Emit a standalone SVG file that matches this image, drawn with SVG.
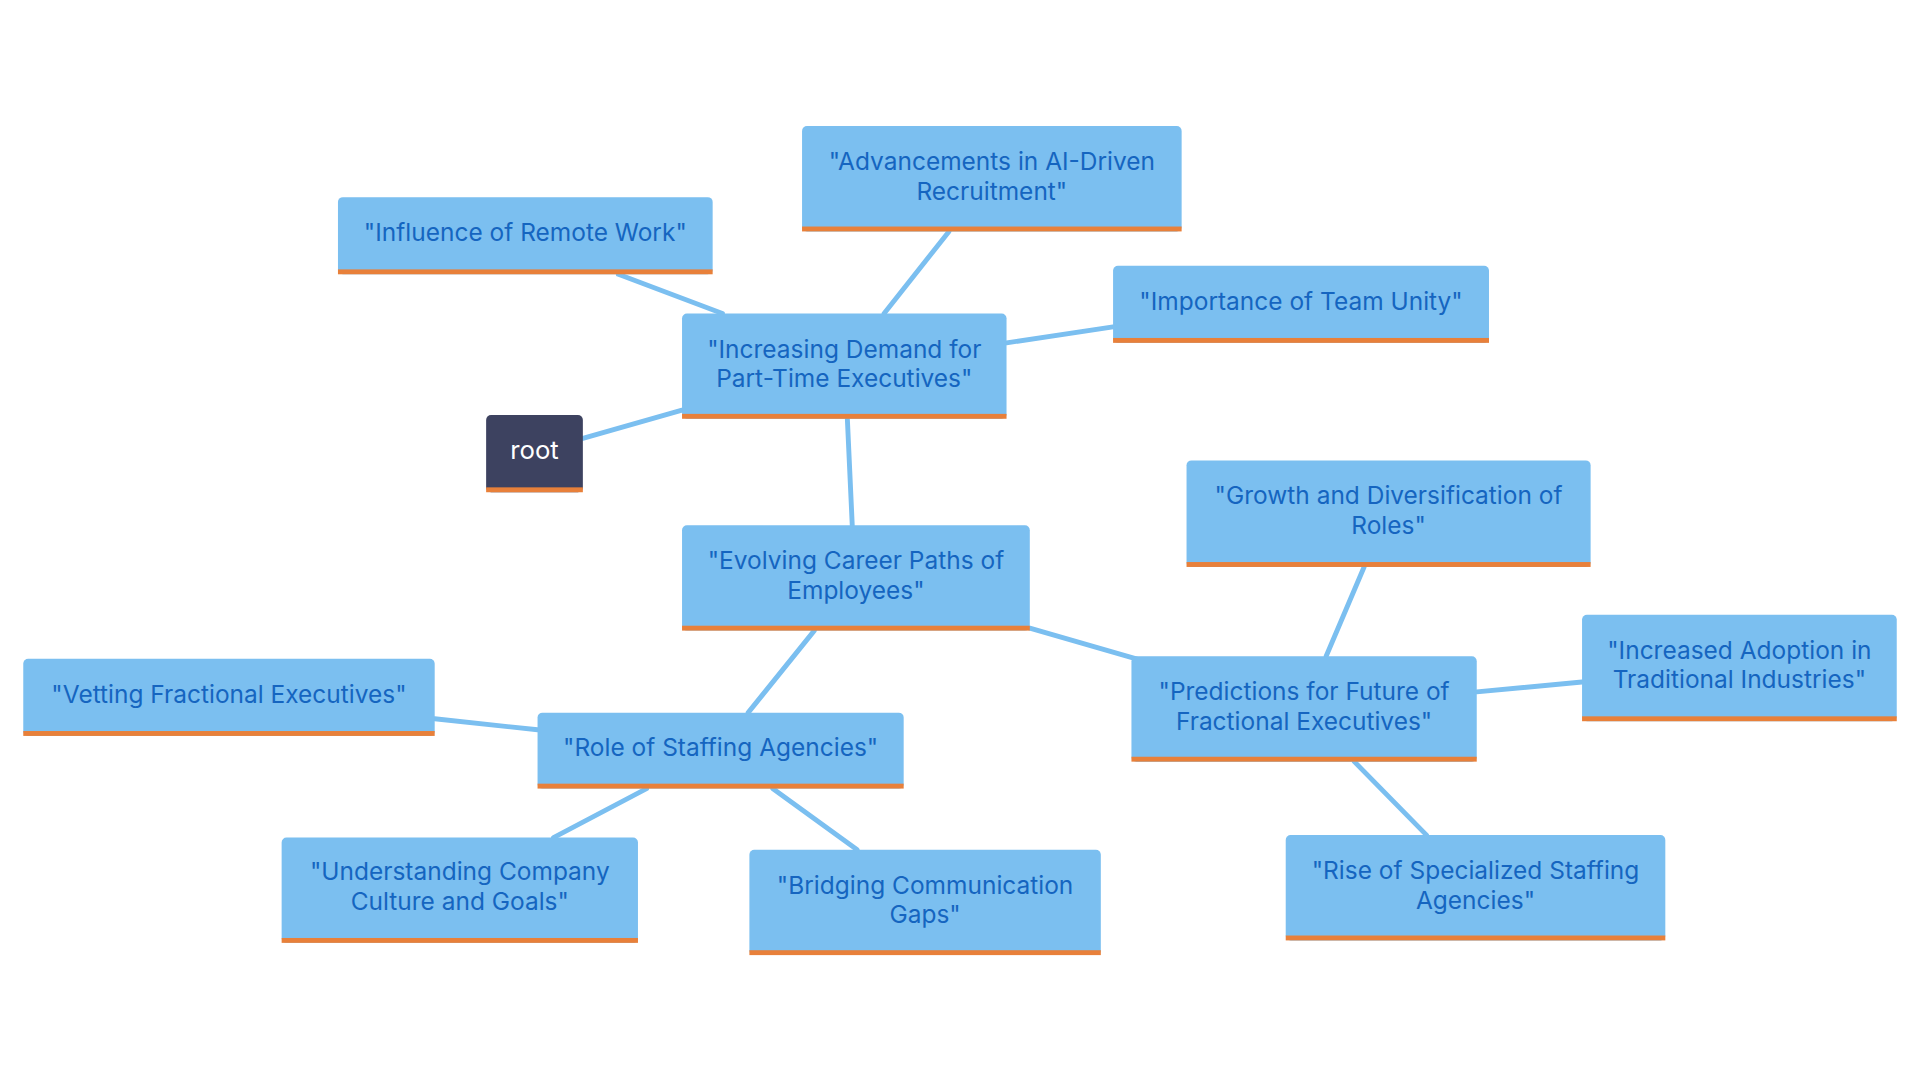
<svg xmlns="http://www.w3.org/2000/svg" width="1920" height="1080" viewBox="0 0 1920 1080">
<style>
.n{fill:#7bbff0}
.b{fill:#e8803a}
.t{font-family:Inter,"Open Sans",sans-serif;font-size:20px;fill:#1565c0;text-anchor:middle}
.c line{stroke:#7bbff0;stroke-width:4;stroke-linecap:round}
</style>
<rect width="1920" height="1080" fill="#fff"/>
<g transform="scale(1.2245)">
<g class="c" id="connectors">
<line x1="476" y1="358" x2="557" y2="335"/>
<line x1="590" y1="256" x2="505" y2="224"/>
<line x1="722" y1="256" x2="775" y2="189"/>
<line x1="822" y1="280" x2="909" y2="267"/>
<line x1="692" y1="342" x2="696" y2="429"/>
<line x1="841" y1="513" x2="928" y2="538"/>
<line x1="665" y1="515" x2="611" y2="582"/>
<line x1="439" y1="596" x2="355" y2="587"/>
<line x1="528" y1="644" x2="452" y2="684"/>
<line x1="631" y1="644" x2="700" y2="694"/>
<line x1="1083" y1="536" x2="1114" y2="463"/>
<line x1="1206" y1="565" x2="1292" y2="557"/>
<line x1="1106" y1="622" x2="1165" y2="682"/>
</g>
<g id="root"><rect x="397" y="339" width="79" height="63" rx="4" fill="#3d4260"/><rect class="b" x="397" y="398" width="79" height="4"/><text x="436.5" y="375" style="font-family:Inter,'Open Sans',sans-serif;font-size:21px;fill:#fff;text-anchor:middle">root</text></g>
<g id="n1"><rect class="n" x="557" y="256" width="265" height="86" rx="4"/><rect class="b" x="557" y="338" width="265" height="4"/><text class="t" x="689.5" y="292">"Increasing Demand for</text><text class="t" x="689.5" y="316">Part-Time Executives"</text></g>
<g id="n2"><rect class="n" x="655" y="103" width="310" height="86" rx="4"/><rect class="b" x="655" y="185" width="310" height="4"/><text class="t" x="810" y="139">"Advancements in AI-Driven</text><text class="t" x="810" y="163">Recruitment"</text></g>
<g id="n3"><rect class="n" x="276" y="161" width="306" height="63" rx="4"/><rect class="b" x="276" y="220" width="306" height="4"/><text class="t" x="429" y="197">"Influence of Remote Work"</text></g>
<g id="n4"><rect class="n" x="909" y="217" width="307" height="63" rx="4"/><rect class="b" x="909" y="276" width="307" height="4"/><text class="t" x="1062.5" y="253">"Importance of Team Unity"</text></g>
<g id="n5"><rect class="n" x="557" y="429" width="284" height="86" rx="4"/><rect class="b" x="557" y="511" width="284" height="4"/><text class="t" x="699" y="465">"Evolving Career Paths of</text><text class="t" x="699" y="489">Employees"</text></g>
<g id="n6"><rect class="n" x="924" y="536" width="282" height="86" rx="4"/><rect class="b" x="924" y="618" width="282" height="4"/><text class="t" x="1065" y="572">"Predictions for Future of</text><text class="t" x="1065" y="596">Fractional Executives"</text></g>
<g id="n7"><rect class="n" x="969" y="376" width="330" height="87" rx="4"/><rect class="b" x="969" y="459" width="330" height="4"/><text class="t" x="1134" y="412">"Growth and Diversification of</text><text class="t" x="1134" y="436">Roles"</text></g>
<g id="n8"><rect class="n" x="1292" y="502" width="257" height="87" rx="4"/><rect class="b" x="1292" y="585" width="257" height="4"/><text class="t" x="1420.5" y="538">"Increased Adoption in</text><text class="t" x="1420.5" y="562">Traditional Industries"</text></g>
<g id="n9"><rect class="n" x="1050" y="682" width="310" height="86" rx="4"/><rect class="b" x="1050" y="764" width="310" height="4"/><text class="t" x="1205" y="718">"Rise of Specialized Staffing</text><text class="t" x="1205" y="742">Agencies"</text></g>
<g id="n10"><rect class="n" x="439" y="582" width="299" height="62" rx="4"/><rect class="b" x="439" y="640" width="299" height="4"/><text class="t" x="588.5" y="617">"Role of Staffing Agencies"</text></g>
<g id="n11"><rect class="n" x="19" y="538" width="336" height="63" rx="4"/><rect class="b" x="19" y="597" width="336" height="4"/><text class="t" x="187" y="574">"Vetting Fractional Executives"</text></g>
<g id="n12"><rect class="n" x="230" y="684" width="291" height="86" rx="4"/><rect class="b" x="230" y="766" width="291" height="4"/><text class="t" x="375.5" y="719">"Understanding Company</text><text class="t" x="375.5" y="743">Culture and Goals"</text></g>
<g id="n13"><rect class="n" x="612" y="694" width="287" height="86" rx="4"/><rect class="b" x="612" y="776" width="287" height="4"/><text class="t" x="755.5" y="730">"Bridging Communication</text><text class="t" x="755.5" y="754">Gaps"</text></g>
</g>
</svg>
